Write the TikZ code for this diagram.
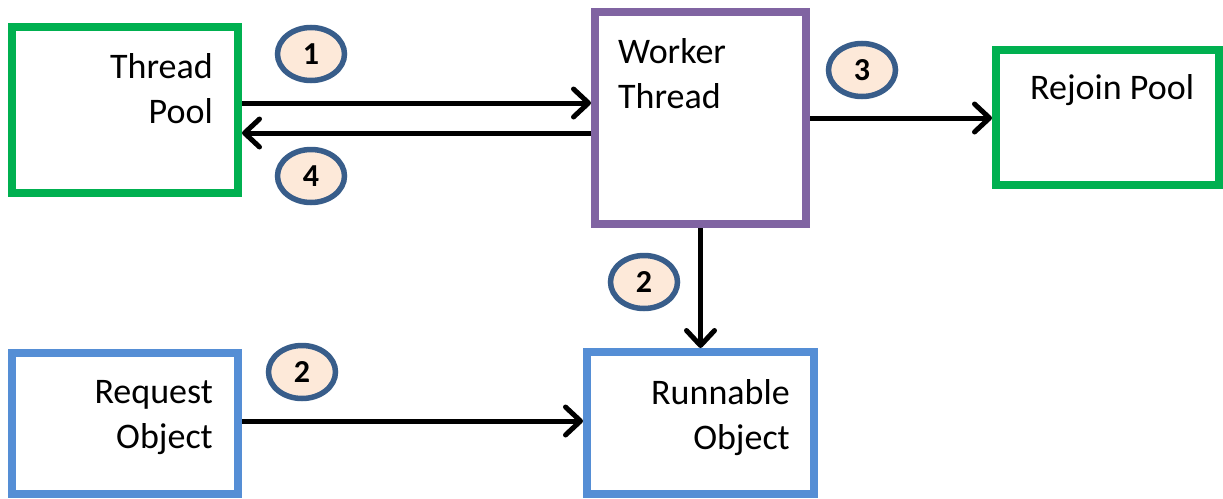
\documentclass[tikz,border=0pt]{standalone}
\usepackage{fontspec}
\setmainfont{Carlito}
\usetikzlibrary{arrows.meta,shapes.geometric}

\definecolor{poolgreen}{HTML}{00B050}
\definecolor{workerpurple}{HTML}{8064A2}
\definecolor{objblue}{HTML}{558ED5}
\definecolor{badgefill}{HTML}{FDE9D9}
\definecolor{badgeline}{HTML}{385D8A}

\tikzset{
  box/.style={draw, rectangle, line width=8pt, inner sep=0pt},
  boxtext/.style={font=\fontsize{36}{45}\selectfont, inner sep=0pt},
  badge/.style={draw=badgeline, fill=badgefill, ellipse, line width=5.5pt,
    minimum width=67pt, minimum height=53pt, inner sep=0pt,
    font=\fontsize{32}{34}\selectfont\bfseries},
  flow/.style={line width=5pt, -{Straight Barb[length=15pt,width=28pt,line cap=round,line join=round]}}
}

\begin{document}
\begin{tikzpicture}[x=1pt, y=-1pt]
  \useasboundingbox (0,0) rectangle (1223,498);

  % boxes
  \node[box, draw=poolgreen, minimum width=226pt, minimum height=166pt] (tp) at (125,110) {};
  \node[box, draw=workerpurple, minimum width=211pt, minimum height=212pt] (wt) at (700.5,118) {};
  \node[box, draw=poolgreen, minimum width=223pt, minimum height=135pt] (rj) at (1107.5,117.5) {};
  \node[box, draw=objblue, minimum width=226pt, minimum height=141pt] (rq) at (125,423.5) {};
  \node[box, draw=objblue, minimum width=227pt, minimum height=142pt] (rn) at (700.5,423) {};

  % box captions
  \node[boxtext, align=right, anchor=east] (tpt) at (213,88.5) {Thread\\Pool};
  \node[boxtext, align=left, anchor=west] (wtt) at (618,74) {Worker\\Thread};
  \node[boxtext, anchor=base west] (rjt) at (1030,99) {Rejoin Pool};
  \node[boxtext, align=right, anchor=east] (rqt) at (213,418) {Request\\Object};
  \node[boxtext, align=right, anchor=east] (rnt) at (790,418) {Runnable\\Object};

  % connectors
  \draw[flow] (tp.east |- 0,103) -- (wt.west |- 0,103);
  \draw[flow] (wt.west |- 0,133) -- (tp.east |- 0,133);
  \draw[flow] (wt.east |- 0,118) -- (rj.west |- 0,118);
  \draw[flow] (wt.south) -- (rn.north);
  \draw[flow] (rq.east |- 0,421) -- (rn.west |- 0,421);

  % step badges
  \node[badge] (b1) at (311,54) {1};
  \node[badge] (b4) at (311,176) {4};
  \node[badge] (b3) at (862,70) {3};
  \node[badge] (b2a) at (644,282) {2};
  \node[badge] (b2b) at (302,372) {2};
\end{tikzpicture}
\end{document}
